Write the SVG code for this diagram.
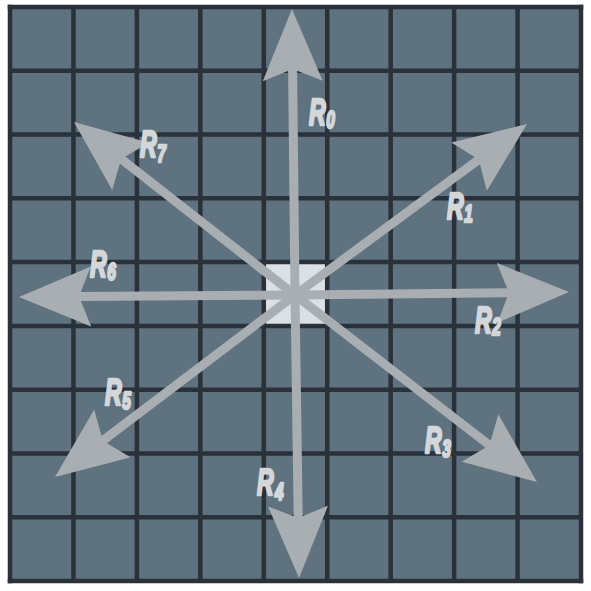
<svg xmlns="http://www.w3.org/2000/svg" width="591" height="591" viewBox="0 0 591 591">
  <style>
    .grid line { stroke: #2a3139; stroke-width: 4.5; }
    .shaft { stroke: #a9aeb2; stroke-width: 9; fill: none; marker-end: url(#head); }
    .r { font-family: "Liberation Sans", Arial, sans-serif; font-weight: bold; font-style: italic; font-size: 36px; fill: #d3d7da; stroke: #d3d7da; stroke-width: 2.6; stroke-linejoin: round; }
    .d { font-size: 24px; stroke-width: 2.6; }
  </style>
  <defs>
    <marker id="head" markerUnits="userSpaceOnUse" viewBox="-12 -30 72 60" refX="0" refY="0" markerWidth="72" markerHeight="60" orient="auto">
      <path d="M60,0 L-12,-30 L0,0 L-12,30 Z" fill="#a9aeb2"/>
    </marker>
  </defs>
  <rect width="591" height="591" fill="#ffffff"/>
  <g id="board">
    <rect x="10" y="7" width="571" height="574" fill="#5f727f"/>
    <rect id="center-cell" x="263.78" y="262.11" width="63.44" height="63.78" fill="#dbe0e4"/>
    <g class="grid">
      <line x1="10" y1="4.75" x2="10" y2="583.25"/>
      <line x1="73.44" y1="7" x2="73.44" y2="581"/>
      <line x1="136.89" y1="7" x2="136.89" y2="581"/>
      <line x1="200.33" y1="7" x2="200.33" y2="581"/>
      <line x1="263.78" y1="7" x2="263.78" y2="581"/>
      <line x1="327.22" y1="7" x2="327.22" y2="581"/>
      <line x1="390.67" y1="7" x2="390.67" y2="581"/>
      <line x1="454.11" y1="7" x2="454.11" y2="581"/>
      <line x1="517.56" y1="7" x2="517.56" y2="581"/>
      <line x1="581" y1="4.75" x2="581" y2="583.25"/>
      <line x1="7.75" y1="7" x2="583.25" y2="7"/>
      <line x1="10" y1="70.78" x2="581" y2="70.78"/>
      <line x1="10" y1="134.56" x2="581" y2="134.56"/>
      <line x1="10" y1="198.33" x2="581" y2="198.33"/>
      <line x1="10" y1="262.11" x2="581" y2="262.11"/>
      <line x1="10" y1="325.89" x2="581" y2="325.89"/>
      <line x1="10" y1="389.67" x2="581" y2="389.67"/>
      <line x1="10" y1="453.44" x2="581" y2="453.44"/>
      <line x1="10" y1="517.22" x2="581" y2="517.22"/>
      <line x1="7.75" y1="581" x2="583.25" y2="581"/>
    </g>
  </g>
  <g id="connectors">
    <line id="arrow-R0" class="shaft" x1="295" y1="295" x2="292.6" y2="69"/>
    <line id="arrow-R1" class="shaft" x1="295" y1="295" x2="478.7" y2="159.6"/>
    <line id="arrow-R2" class="shaft" x1="295" y1="295" x2="509" y2="292.7"/>
    <line id="arrow-R3" class="shaft" x1="295" y1="295" x2="489.5" y2="445.3"/>
    <line id="arrow-R4" class="shaft" x1="295" y1="295" x2="298.2" y2="518"/>
    <line id="arrow-R5" class="shaft" x1="295" y1="295" x2="102.8" y2="440.7"/>
    <line id="arrow-R6" class="shaft" x1="295" y1="295" x2="79" y2="296.6"/>
    <line id="arrow-R7" class="shaft" x1="295" y1="295" x2="121.2" y2="159"/>
  </g>
  <g id="labels">
    <text id="label-R0" class="r" transform="translate(309,125) scale(0.64,1)">R<tspan class="d" dx="1" dy="3">0</tspan></text>
    <text id="label-R1" class="r" transform="translate(447,219) scale(0.64,1)">R<tspan class="d" dx="1" dy="3">1</tspan></text>
    <text id="label-R2" class="r" transform="translate(475,333) scale(0.64,1)">R<tspan class="d" dx="1" dy="2">2</tspan></text>
    <text id="label-R3" class="r" transform="translate(425,453) scale(0.64,1)">R<tspan class="d" dx="1" dy="4">3</tspan></text>
    <text id="label-R4" class="r" transform="translate(257,495) scale(0.64,1)">R<tspan class="d" dx="2" dy="5">4</tspan></text>
    <text id="label-R5" class="r" transform="translate(105,405) scale(0.64,1)">R<tspan class="d" dx="1" dy="4">5</tspan></text>
    <text id="label-R6" class="r" transform="translate(90,277) scale(0.64,1)">R<tspan class="d" dx="1" dy="3">6</tspan></text>
    <text id="label-R7" class="r" transform="translate(140,157) scale(0.64,1)">R<tspan class="d" dx="1" dy="5">7</tspan></text>
  </g>
</svg>
